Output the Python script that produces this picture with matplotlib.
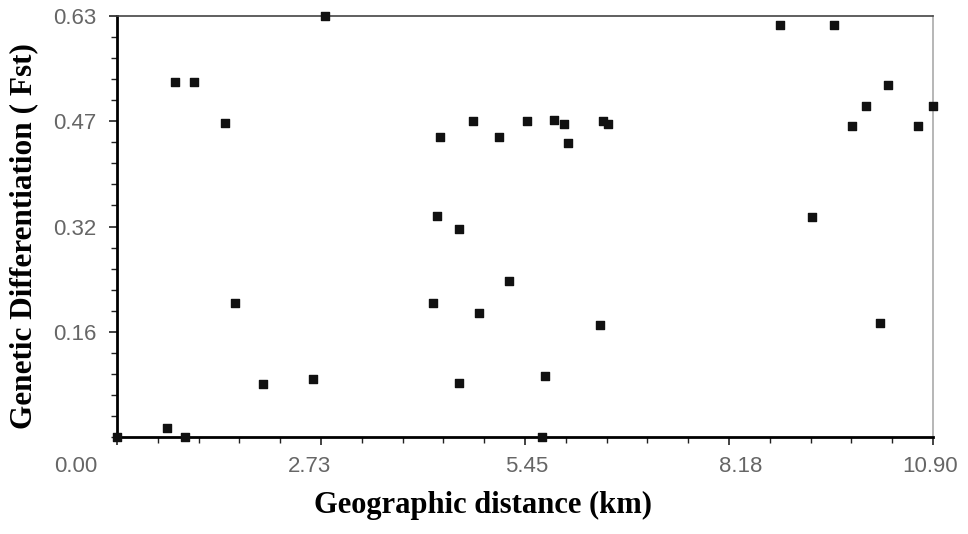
import numpy as np
import matplotlib
matplotlib.use("Agg")
import matplotlib.pyplot as plt
from matplotlib.transforms import ScaledTranslation

# Geographic distance (km) vs genetic differentiation (Fst)
distance = [0.00, 0.67, 0.91, 0.78, 1.03, 1.44, 1.58, 1.95, 2.62, 2.78,
            4.76, 4.32, 5.10, 5.48, 5.84, 5.97, 6.03, 6.49, 6.56, 4.28,
            4.57, 4.22, 4.84, 5.24, 6.45, 4.57, 5.72, 5.68, 8.86, 9.58,
            10.30, 10.00, 9.82, 10.70, 10.90, 9.28, 10.19]
fst = [0.000, 0.014, 0.000, 0.531, 0.531, 0.470, 0.200, 0.080, 0.087, 0.630,
       0.473, 0.449, 0.449, 0.473, 0.474, 0.468, 0.440, 0.473, 0.468, 0.330,
       0.311, 0.200, 0.185, 0.233, 0.168, 0.081, 0.092, 0.000, 0.617, 0.617,
       0.527, 0.495, 0.465, 0.465, 0.495, 0.329, 0.171]

x_ticks = [0.0, 2.725, 5.45, 8.175, 10.90]
x_labels = ["0.00", "2.73", "5.45", "8.18", "10.90"]
y_ticks = [0.1575, 0.315, 0.4725, 0.63]
y_labels = ["0.16", "0.32", "0.47", "0.63"]

fig = plt.figure(figsize=(9.68, 5.34), dpi=100)
ax = fig.add_axes([0.1209, 0.1816, 0.8429, 0.7884])

ax.scatter(distance, fst, marker="s", s=36, color="#111111", clip_on=False, zorder=3)

ax.set_xlim(0, 10.90)
ax.set_ylim(0, 0.63)
ax.set_xticks(x_ticks)
ax.set_xticklabels(x_labels)
ax.set_yticks(y_ticks)
ax.set_yticklabels(y_labels)
ax.set_xticks(np.arange(0, 10.91, 0.545), minor=True)
ax.set_yticks(np.arange(0, 0.631, 0.0315), minor=True)

ax.tick_params(axis="both", which="major", direction="out", length=6, width=1.2,
               labelsize=16, labelcolor="#666666", color="#222222")
ax.tick_params(axis="both", which="minor", direction="out", length=4, width=1.0,
               color="#222222")
ax.tick_params(axis="y", pad=9)
ax.tick_params(axis="x", pad=8)

for t in ax.get_xticklabels() + ax.get_yticklabels():
    t.set_family("Liberation Sans")

# the x labels sit a little off their ticks in the original
shifts = [-41, -12, 2, 12, -3]
for t, dx in zip(ax.get_xticklabels(), shifts):
    t.set_transform(t.get_transform() + ScaledTranslation(dx / 100, 0, fig.dpi_scale_trans))

ax.spines["left"].set_linewidth(2)
ax.spines["bottom"].set_linewidth(2)
ax.spines["top"].set_linewidth(1.2)
ax.spines["top"].set_color("#444444")
ax.spines["right"].set_linewidth(1.2)
ax.spines["right"].set_color("#aaaaaa")

ax.set_xlabel("Geographic distance (km)", family="Liberation Serif", fontweight="bold",
              fontsize=22)
ax.set_ylabel("Genetic Differentiation ( Fst)", family="Liberation Serif", fontweight="bold",
              fontsize=22.5)
ax.xaxis.set_label_coords(0.4485, -0.128)
ax.yaxis.set_label_coords(-0.097, 0.477)

fig.savefig("out.png", dpi=100)
